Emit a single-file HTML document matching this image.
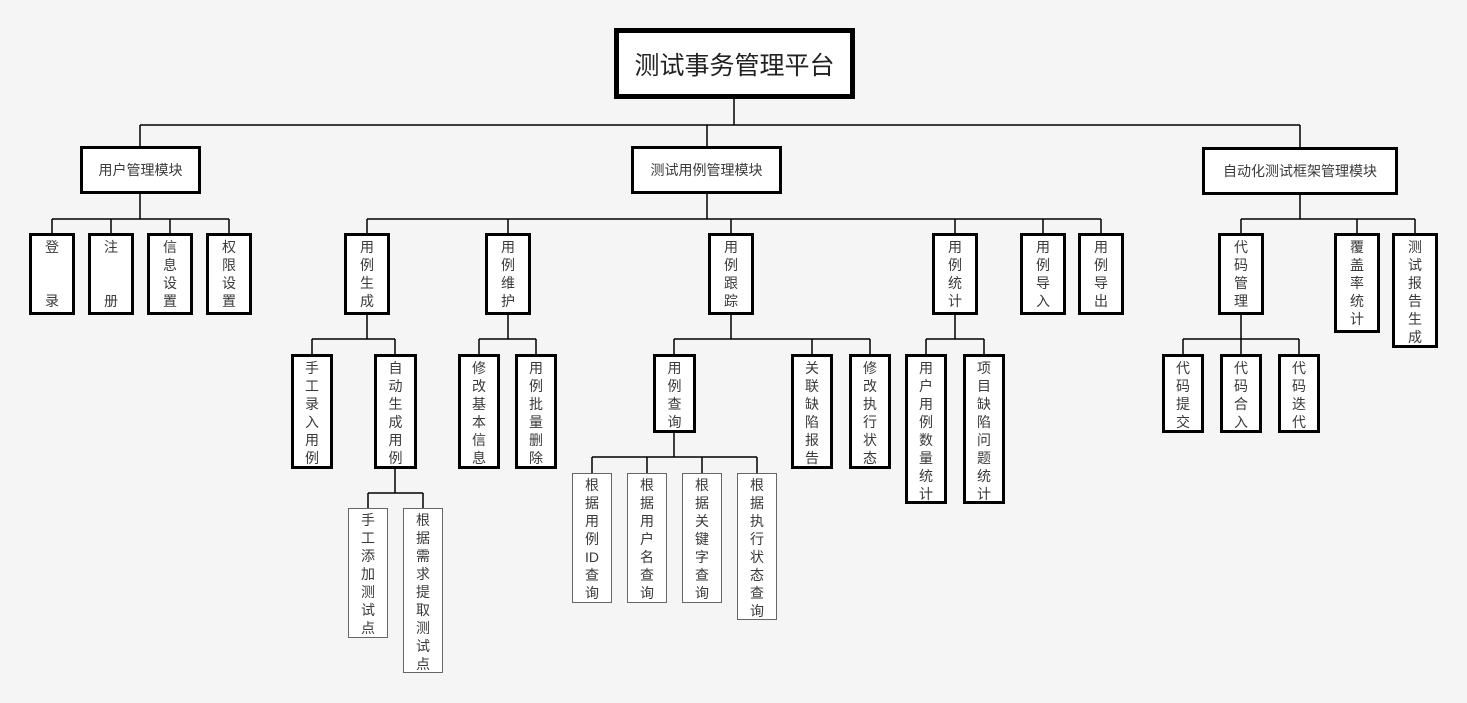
<!DOCTYPE html>
<html><head><meta charset="utf-8"><style>
html,body{margin:0;padding:0}
body{width:1467px;height:703px;background:#f5f5f5;position:relative;overflow:hidden;font-family:"Liberation Sans","Noto Sans CJK SC",sans-serif;color:#3a3a3a}
.b{position:absolute;box-sizing:border-box;background:#fff;text-align:center}
.k{border:3px solid #000}
.t{border:1.5px solid #666}
.v{font-size:14px;line-height:18px;padding-top:2px}
.v span{display:block}
.h{font-size:14px;display:flex;align-items:center;justify-content:center}
svg{position:absolute;left:0;top:0}
</style></head><body>
<svg width="1467" height="703" stroke="#000" stroke-width="1.5" fill="none">
<path d="M734 99V125M140 125H1300M140 125V146M707 125V146M1300 125V147"/>
<path d="M140 194V219M52 219H229M52 219V233M111 219V233M170 219V233M229 219V233"/>
<path d="M707 194V219M367 219H1101M367 219V233M508 219V233M731 219V233M955 219V233M1043 219V233M1101 219V233"/>
<path d="M1300 195V219M1241 219H1415M1241 219V233M1357 219V233M1415 219V233"/>
<path d="M367 315V339M312 339H395M312 339V354M395 339V354"/>
<path d="M508 315V339M479 339H536M479 339V354M536 339V354"/>
<path d="M731 315V339M674 339H870M674 339V354M812 339V354M870 339V354"/>
<path d="M955 315V339M926 339H984M926 339V354M984 339V354"/>
<path d="M1241 315V339M1183 339H1299M1183 339V354M1241 339V354M1299 339V354"/>
<path d="M395 469V493M368 493H423M368 493V508M423 493V508"/>
<path d="M674 433V457M592 457H757M592 457V473M647 457V473M702 457V473M757 457V473"/>
</svg>

<div class="b h" style="left:614px;top:28px;width:241px;height:71px;border:5px solid #000;font-size:25px;color:#222">测试事务管理平台</div>
<div class="b k h" style="left:80px;top:146px;width:121px;height:48px">用户管理模块</div>
<div class="b k h" style="left:631px;top:146px;width:151px;height:48px">测试用例管理模块</div>
<div class="b k h" style="left:1202px;top:147px;width:196px;height:48px">自动化测试框架管理模块</div>

<div class="b k v" style="left:29px;top:233px;width:46px;height:82px"><span>登</span><span style="margin-top:36px">录</span></div>
<div class="b k v" style="left:88px;top:233px;width:46px;height:82px"><span>注</span><span style="margin-top:36px">册</span></div>
<div class="b k v" style="left:147px;top:233px;width:46px;height:82px"><span>信</span><span>息</span><span>设</span><span>置</span></div>
<div class="b k v" style="left:206px;top:233px;width:46px;height:82px"><span>权</span><span>限</span><span>设</span><span>置</span></div>

<div class="b k v" style="left:344px;top:233px;width:46px;height:82px"><span>用</span><span>例</span><span>生</span><span>成</span></div>
<div class="b k v" style="left:485px;top:233px;width:46px;height:82px"><span>用</span><span>例</span><span>维</span><span>护</span></div>
<div class="b k v" style="left:708px;top:233px;width:46px;height:82px"><span>用</span><span>例</span><span>跟</span><span>踪</span></div>
<div class="b k v" style="left:932px;top:233px;width:46px;height:82px"><span>用</span><span>例</span><span>统</span><span>计</span></div>
<div class="b k v" style="left:1020px;top:233px;width:46px;height:82px"><span>用</span><span>例</span><span>导</span><span>入</span></div>
<div class="b k v" style="left:1078px;top:233px;width:46px;height:82px"><span>用</span><span>例</span><span>导</span><span>出</span></div>

<div class="b k v" style="left:1218px;top:233px;width:46px;height:82px"><span>代</span><span>码</span><span>管</span><span>理</span></div>
<div class="b k v" style="left:1334px;top:233px;width:46px;height:100px"><span>覆</span><span>盖</span><span>率</span><span>统</span><span>计</span></div>
<div class="b k v" style="left:1392px;top:233px;width:46px;height:115px"><span>测</span><span>试</span><span>报</span><span>告</span><span>生</span><span>成</span></div>

<div class="b k v" style="left:291px;top:354px;width:42px;height:115px"><span>手</span><span>工</span><span>录</span><span>入</span><span>用</span><span>例</span></div>
<div class="b k v" style="left:374px;top:354px;width:43px;height:115px"><span>自</span><span>动</span><span>生</span><span>成</span><span>用</span><span>例</span></div>
<div class="b k v" style="left:458px;top:354px;width:42px;height:115px"><span>修</span><span>改</span><span>基</span><span>本</span><span>信</span><span>息</span></div>
<div class="b k v" style="left:515px;top:354px;width:42px;height:115px"><span>用</span><span>例</span><span>批</span><span>量</span><span>删</span><span>除</span></div>
<div class="b k v" style="left:653px;top:354px;width:43px;height:79px"><span>用</span><span>例</span><span>查</span><span>询</span></div>
<div class="b k v" style="left:791px;top:354px;width:42px;height:115px"><span>关</span><span>联</span><span>缺</span><span>陷</span><span>报</span><span>告</span></div>
<div class="b k v" style="left:849px;top:354px;width:42px;height:115px"><span>修</span><span>改</span><span>执</span><span>行</span><span>状</span><span>态</span></div>
<div class="b k v" style="left:905px;top:354px;width:42px;height:150px"><span>用</span><span>户</span><span>用</span><span>例</span><span>数</span><span>量</span><span>统</span><span>计</span></div>
<div class="b k v" style="left:963px;top:354px;width:42px;height:150px"><span>项</span><span>目</span><span>缺</span><span>陷</span><span>问</span><span>题</span><span>统</span><span>计</span></div>
<div class="b k v" style="left:1162px;top:354px;width:42px;height:79px"><span>代</span><span>码</span><span>提</span><span>交</span></div>
<div class="b k v" style="left:1220px;top:354px;width:42px;height:79px"><span>代</span><span>码</span><span>合</span><span>入</span></div>
<div class="b k v" style="left:1278px;top:354px;width:42px;height:79px"><span>代</span><span>码</span><span>迭</span><span>代</span></div>

<div class="b t v" style="left:348px;top:508px;width:40px;height:130px"><span>手</span><span>工</span><span>添</span><span>加</span><span>测</span><span>试</span><span>点</span></div>
<div class="b t v" style="left:403px;top:508px;width:40px;height:165px"><span>根</span><span>据</span><span>需</span><span>求</span><span>提</span><span>取</span><span>测</span><span>试</span><span>点</span></div>
<div class="b t v" style="left:572px;top:473px;width:40px;height:130px"><span>根</span><span>据</span><span>用</span><span>例</span><span>ID</span><span>查</span><span>询</span></div>
<div class="b t v" style="left:627px;top:473px;width:40px;height:130px"><span>根</span><span>据</span><span>用</span><span>户</span><span>名</span><span>查</span><span>询</span></div>
<div class="b t v" style="left:682px;top:473px;width:40px;height:130px"><span>根</span><span>据</span><span>关</span><span>键</span><span>字</span><span>查</span><span>询</span></div>
<div class="b t v" style="left:737px;top:473px;width:40px;height:147px"><span>根</span><span>据</span><span>执</span><span>行</span><span>状</span><span>态</span><span>查</span><span>询</span></div>
</body></html>
